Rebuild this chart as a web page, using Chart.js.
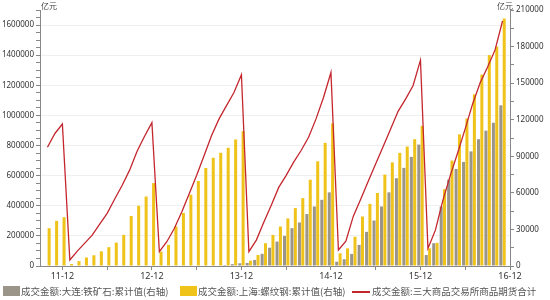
<!DOCTYPE html>
<html>
<head>
<meta charset="utf-8">
<script src="https://cdn.jsdelivr.net/npm/chart.js"></script>
<style>
  body { margin: 0; background: #fff; }
  #wrap { position: relative; width: 550px; height: 300px; font-family: 'Noto Sans CJK SC', sans-serif; }
  .unit { position: absolute; top: 1px; font-size: 8px; line-height: 10px; color: #444; }
  #legend { position: absolute; left: 0; top: 284px; width: 550px; height: 14px; font-size: 9.5px; color: #555; }
  .item { position: absolute; top: 0; line-height: 14px; white-space: nowrap; }
  .box { position: absolute; top: 2px; width: 17px; height: 10px; }
  .ln { position: absolute; top: 7px; width: 18px; height: 2px; }
</style>
</head>
<body>
<div id="wrap">
  <canvas id="c" width="550" height="300"></canvas>
  <span class="unit" style="left:41px">亿元</span>
  <span class="unit" style="left:497px">亿元</span>
  <div id="legend"></div>
</div>
<script>
// month categories 2011-09 .. 2016-12 (first and last are empty padding slots)
const months = [];
for (let y = 2011; y <= 2016; y++) {
    for (let m = 1; m <= 12; m++) {
        if (y === 2011 && m < 9) continue;
        months.push(y + '-' + String(m).padStart(2, '0'));
    }
}

// 成交金额:三大商品交易所商品期货合计 (left axis, 亿元)
const totalFutures = [
    null,
    789000, 880000, 943000,
    40000, 99000, 152000, 205000, 278000, 350000, 443000, 535000, 635000, 760000, 860000, 952000,
    95000, 161000, 249000, 359000, 480000, 602000, 734000, 866000, 977000, 1065000, 1152000, 1270000,
    95000, 172000, 291000, 403000, 522000, 602000, 690000, 767000, 855000, 977000, 1119000, 1285000,
    106000, 165000, 331000, 445000, 562000, 679000, 793000, 910000, 1027000, 1108000, 1197000, 1367000,
    117000, 238000, 436000, 602000, 754000, 912000, 1078000, 1217000, 1322000, 1435000, 1627000,
    null
];

// 成交金额:上海:螺纹钢:累计值 (right axis)
const rebar = [
    null,
    31000, 37000, 40000,
    1600, 4000, 7000, 8800, 12000, 15400, 19200, 25500, 41000, 49400, 57000, 68000,
    11800, 17300, 32400, 43500, 58500, 69700, 80400, 88800, 92900, 97000, 103800, 110600,
    4400, 9000, 18700, 25500, 32400, 39000, 47500, 55700, 70800, 85900, 101000, 117000,
    10400, 14500, 24000, 40600, 51000, 59900, 75000, 85000, 92800, 98000, 104000, 115000,
    14500, 19000, 63000, 86500, 108000, 121000, 140800, 157000, 173000, 180000, 203000,
    null
];

// 成交金额:大连:铁矿石:累计值 (right axis)
const ironOre = [
    null,
    null, null, null,
    null, null, null, null, null, null, null, null, null, null, null, null,
    null, null, null, null, null, null, null, null, null, 800, 1500, 2200,
    2500, 5000, 10000, 15000, 20000, 24700, 31000, 35700, 42600, 48800, 54300, 60400,
    3500, 5500, 9900, 17300, 28000, 37300, 48800, 60400, 72000, 80500, 89500, 99600,
    9000, 18700, 48800, 70800, 79600, 85400, 94000, 104000, 111000, 117500, 131800,
    null
];

const seriesNames = ['成交金额:大连:铁矿石:累计值(右轴)', '成交金额:上海:螺纹钢:累计值(右轴)', '成交金额:三大商品交易所商品期货合计'];
const seriesColors = ['#9a9489', '#f0c31a', '#c4262e'];

Chart.defaults.font.family = "'Noto Sans', 'Noto Sans CJK SC', sans-serif";
Chart.defaults.font.size = 8;
Chart.defaults.color = '#333';

new Chart(document.getElementById('c'), {
    type: 'bar',
    data: {
        labels: months,
        datasets: [
            { label: seriesNames[0], data: ironOre, backgroundColor: seriesColors[0], yAxisID: 'y2', order: 1,
              categoryPercentage: 0.9, barPercentage: 0.9 },
            { label: seriesNames[1], data: rebar, backgroundColor: seriesColors[1], yAxisID: 'y2', order: 1,
              categoryPercentage: 0.9, barPercentage: 0.9 },
            { type: 'line', label: seriesNames[2], data: totalFutures, borderColor: seriesColors[2], borderWidth: 1.3,
              pointRadius: 0, tension: 0, yAxisID: 'y', order: 0 }
        ]
    },
    options: {
        responsive: false,
        animation: false,
        layout: { padding: { top: 10, left: 0, right: 0, bottom: 0 } },
        plugins: { legend: { display: false }, tooltip: { enabled: false } },
        scales: {
            x: {
                type: 'category',
                offset: false,
                grid: {
                    offset: false,
                    drawOnChartArea: false,
                    tickLength: 4,
                    tickColor: ctx => {
                        const l = months[ctx.index];
                        if (!l) return 'transparent';
                        const mm = l.slice(5);
                        return (mm === '12' || mm === '06') ? '#888' : 'transparent';
                    }
                },
                border: { color: '#888' },
                ticks: {
                    autoSkip: false,
                    maxRotation: 0,
                    padding: 1,
                    font: { size: 9 },
                    color: '#333',
                    callback: (v, i) => months[i].slice(5) === '12' ? months[i].slice(2) : ''
                },
                afterFit: s => { s.height = 34; }
            },
            y: {
                position: 'left',
                min: 0,
                max: 1700000,
                grid: {
                    tickLength: 4,
                    color: ctx => ctx.tick && ctx.tick.value % 200000 === 0 && ctx.tick.value > 0 ? '#efefef' : 'transparent',
                    tickColor: '#888'
                },
                border: { color: '#888' },
                ticks: {
                    stepSize: 50000,
                    maxTicksLimit: 100,
                    autoSkip: false,
                    padding: 2,
                    callback: v => (v % 200000 === 0 && v <= 1600000) ? v : ''
                },
                afterFit: s => { s.width = 40; }
            },
            y2: {
                position: 'right',
                min: 0,
                max: 210000,
                grid: { drawOnChartArea: false, tickLength: 4, tickColor: '#888' },
                border: { color: '#888' },
                ticks: {
                    stepSize: 15000,
                    maxTicksLimit: 100,
                    autoSkip: false,
                    padding: 2,
                    callback: v => v % 30000 === 0 ? v : ''
                },
                afterFit: s => { s.width = 40; }
            }
        }
    }
});

// legend row
const legend = document.getElementById('legend');
const legendPos = [[3, 21], [180, 198], [352, 372]];
seriesNames.forEach((name, i) => {
    const mark = document.createElement('span');
    mark.className = i === 2 ? 'ln' : 'box';
    mark.style.left = legendPos[i][0] + 'px';
    mark.style.background = seriesColors[i];
    legend.appendChild(mark);
    const t = document.createElement('span');
    t.className = 'item';
    t.style.left = legendPos[i][1] + 'px';
    t.textContent = name;
    legend.appendChild(t);
});
</script>
</body>
</html>
